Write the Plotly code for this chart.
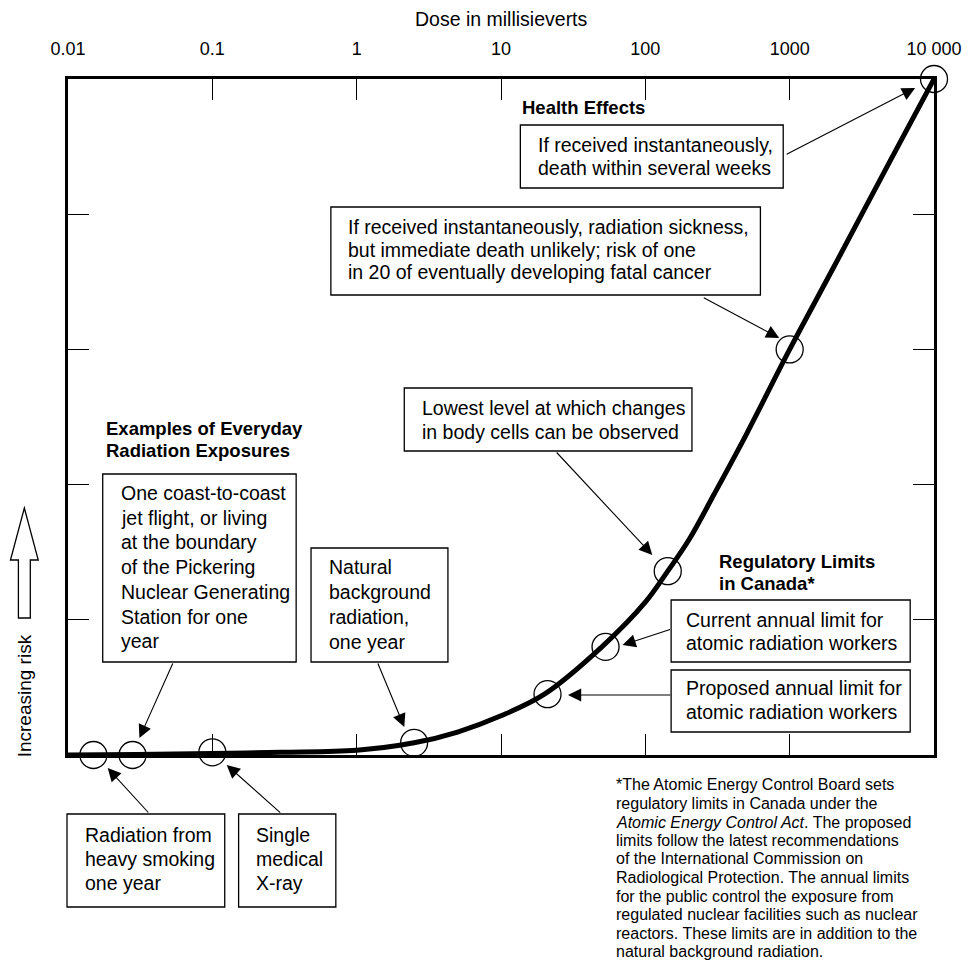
import plotly.graph_objects as go

# ---------------- data ----------------
curve_dose = [0.01, 0.03, 0.1, 0.3, 1, 2.5, 5, 10, 20, 50, 100, 143, 200, 300, 500, 1000, 2000, 5000, 10000]
curve_risk = [0.0, 0.004, 0.012, 0.02, 0.035, 0.09, 0.17, 0.29, 0.45, 0.8, 1.13, 1.36, 1.59, 1.93, 2.37, 3.0, 3.6, 4.4, 5.0]

circle_dose = [0.015, 0.028, 0.1, 2.5, 21, 53, 143, 1000, 10000]
circle_risk = [0.0, 0.0, 0.02, 0.09, 0.45, 0.8, 1.36, 3.0, 5.0]

tick_vals = [0.01, 0.1, 1, 10, 100, 1000, 10000]
tick_text = ["0.01", "0.1", "1", "10", "100", "1000", "10 000"]
risk_ticks = [1, 2, 3, 4]

x_title = "Dose in millisieverts"
y_title = "Increasing risk"

heading_health = ["Health Effects"]
heading_everyday = ["Examples of Everyday", "Radiation Exposures"]
heading_regulatory = ["Regulatory Limits", "in Canada*"]

txt_death = ["If received instantaneously,", "death within several weeks"]
txt_sickness = ["If received instantaneously, radiation sickness,",
                "but immediate death unlikely; risk of one",
                "in 20 of eventually developing fatal cancer"]
txt_lowest = ["Lowest level at which changes", "in body cells can be observed"]
txt_jet = ["One coast-to-coast", "jet flight, or living", "at the boundary",
           "of the Pickering", "Nuclear Generating", "Station for one", "year"]
txt_natural = ["Natural", "background", "radiation,", "one year"]
txt_current = ["Current annual limit for", "atomic radiation workers"]
txt_proposed = ["Proposed annual limit for", "atomic radiation workers"]
txt_smoking = ["Radiation from", "heavy smoking", "one year"]
txt_xray = ["Single", "medical", "X-ray"]
footnote = ["*The Atomic Energy Control Board sets",
            "regulatory limits in Canada under the",
            "<i>Atomic Energy Control Act</i>. The proposed",
            "limits follow the latest recommendations",
            "of the International Commission on",
            "Radiological Protection. The annual limits",
            "for the public control the exposure from",
            "regulated nuclear facilities such as nuclear",
            "reactors. These limits are in addition to the",
            "natural background radiation."]

# ---------------- layout helpers ----------------
W, H = 974, 980
L, R, T, B = 68, 941, 79, 755
FONT = "Liberation Sans, Arial, sans-serif"


def X(px):
    return (px - L) / (R - L)


def Y(py):
    return (B - py) / (B - T)


fig = go.Figure()

fig.add_trace(go.Scatter(
    x=curve_dose, y=curve_risk, mode="lines",
    line=dict(color="black", width=5, shape="spline", smoothing=1.0),
    hoverinfo="skip", showlegend=False, cliponaxis=False))

fig.add_trace(go.Scatter(
    x=circle_dose, y=circle_risk, mode="markers",
    marker=dict(symbol="circle-open", size=27, color="black",
                line=dict(color="black", width=1.3)),
    hoverinfo="skip", showlegend=False, cliponaxis=False))

annotations = []
shapes = []


def add_lines(lines, left, first_y, spacing, size=19.5, bold=False):
    for i, t in enumerate(lines):
        txt = f"<b>{t}</b>" if bold else t
        annotations.append(dict(
            text=txt, x=X(left), y=Y(first_y + i * spacing),
            xref="paper", yref="paper", xanchor="left", yanchor="middle",
            showarrow=False, font=dict(family=FONT, size=size, color="black")))


def add_box(x0, y0, x1, y1):
    shapes.append(dict(type="rect", xref="paper", yref="paper",
                       x0=X(x0), x1=X(x1), y0=Y(y1), y1=Y(y0),
                       line=dict(color="black", width=1.3),
                       fillcolor="white", layer="above"))


def add_arrow(tail, head):
    annotations.append(dict(
        text="", x=X(head[0]), y=Y(head[1]), xref="paper", yref="paper",
        ax=tail[0] - head[0], ay=tail[1] - head[1], axref="pixel", ayref="pixel",
        showarrow=True, arrowhead=2, arrowsize=2.4, arrowwidth=1.1,
        arrowcolor="black", standoff=0, startstandoff=0))


# headings
add_lines(heading_health, 524, 107, 23, size=18.5, bold=True)
add_lines(heading_everyday, 104, 428, 23, size=18.5, bold=True)
add_lines(heading_regulatory, 722, 561, 22.5, size=18.5, bold=True)

# boxes with text
add_box(524, 125, 789, 188); add_lines(txt_death, 540, 145, 23.3)
add_box(333, 207, 766, 295); add_lines(txt_sickness, 348, 227, 22.7)
add_box(407, 388, 697, 451); add_lines(txt_lowest, 423, 408, 23.5)
add_box(103, 474, 298, 662); add_lines(txt_jet, 119, 493, 24.7)
add_box(313, 548, 451, 662); add_lines(txt_natural, 329, 567, 25)
add_box(676, 600, 917, 662); add_lines(txt_current, 689, 620, 23)
add_box(676, 670, 917, 732); add_lines(txt_proposed, 689, 688, 23.5)
add_box(67, 814, 226, 907); add_lines(txt_smoking, 83, 835, 24)
add_box(240, 814, 338, 907); add_lines(txt_xray, 255, 835, 24)

# arrows
add_arrow((792, 155), (922, 88))
add_arrow((708, 297), (785, 338))
add_arrow((560, 451), (657, 555))
add_arrow((174, 662), (140, 738))
add_arrow((380, 662), (407, 727))
add_arrow((676, 629), (627, 645))
add_arrow((676, 695), (572, 695))
add_arrow((150, 814), (108, 768))
add_arrow((283, 814), (228, 765))

# footnote
add_lines(footnote, 618, 785, 18.5, size=16)

# axis titles
annotations.append(dict(text=x_title, x=0.5, y=Y(19), xref="paper", yref="paper",
                        xanchor="center", yanchor="middle", showarrow=False,
                        font=dict(family=FONT, size=19.5, color="black")))
annotations.append(dict(text=y_title, x=X(24), y=Y(696), xref="paper", yref="paper",
                        xanchor="center", yanchor="middle", showarrow=False, textangle=-90,
                        font=dict(family=FONT, size=19, color="black")))

# hollow block arrow
pts = [(24, 508), (38, 560), (30, 560), (30, 618), (18, 618), (18, 560), (10, 560)]
path = "M " + " L ".join(f"{X(px):.5f},{Y(py):.5f}" for px, py in pts) + " Z"
shapes.append(dict(type="path", xref="paper", yref="paper", path=path,
                   line=dict(color="black", width=1.3), fillcolor="white"))

fig.update_layout(
    width=W, height=H,
    margin=dict(l=L, r=W - R, t=T, b=H - B, pad=0),
    paper_bgcolor="white", plot_bgcolor="white",
    font=dict(family=FONT, size=18, color="black"),
    showlegend=False,
    annotations=annotations, shapes=shapes,
    xaxis=dict(type="log", range=[-2, 4], side="top",
               tickvals=tick_vals, ticktext=tick_text,
               ticks="inside", ticklen=21, tickwidth=1.2, tickcolor="black",
               showline=True, linewidth=3, linecolor="black", mirror="ticks",
               showgrid=False, zeroline=False, ticklabelstandoff=14,
               tickfont=dict(family=FONT, size=18, color="black")),
    yaxis=dict(range=[0, 5], tickvals=risk_ticks, showticklabels=False,
               ticks="inside", ticklen=21, tickwidth=1.2, tickcolor="black",
               showline=True, linewidth=3, linecolor="black", mirror="ticks",
               showgrid=False, zeroline=False),
)

fig.write_html(
    "out.html",
    config={"displayModeBar": False},
    post_script="document.body.style.margin='0px';document.body.style.overflow='hidden';")
